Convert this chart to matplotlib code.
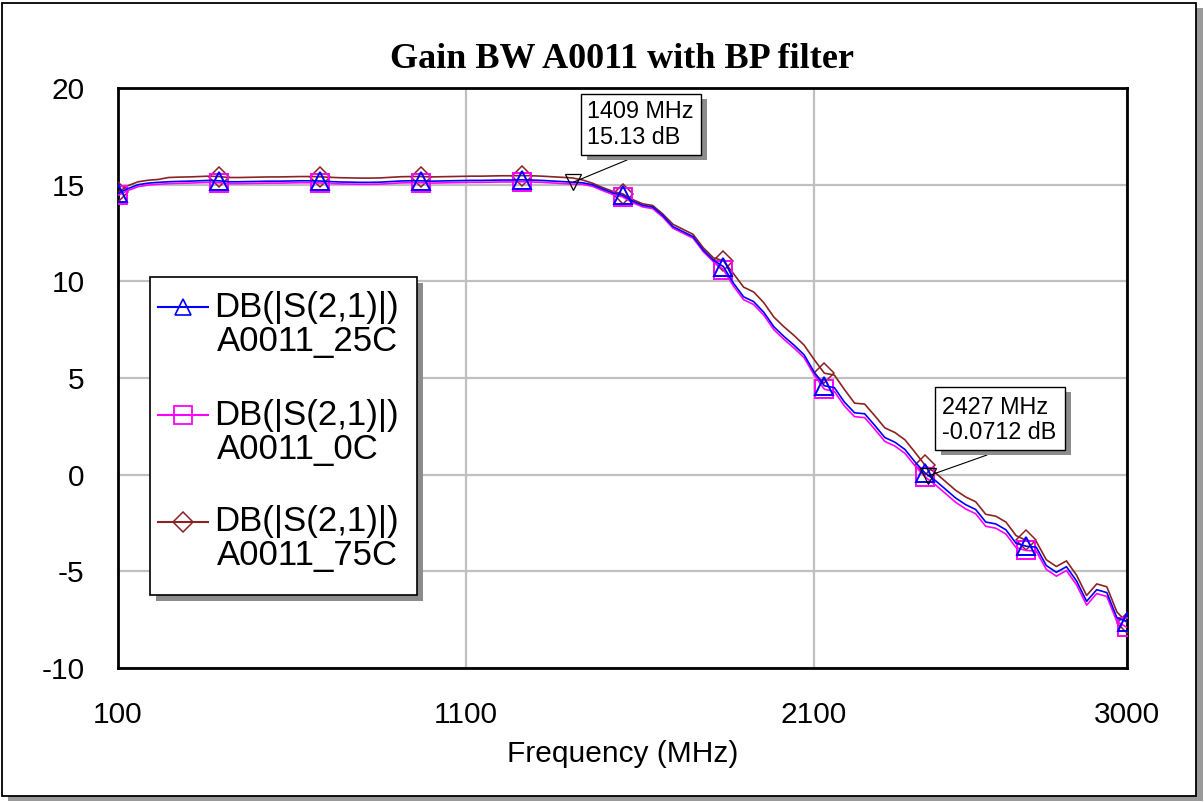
import matplotlib
matplotlib.use('Agg')
import matplotlib.pyplot as plt
from matplotlib.patches import Rectangle
from matplotlib.lines import Line2D
import numpy as np

# ---------------- data ----------------
freq_mhz = np.arange(100, 3001, 29)  # 101 sweep points, 100..3000 MHz

s21_25c = [14.55, 14.80, 15.00, 15.08, 15.12, 15.15, 15.17, 15.18, 15.20, 15.22,
           15.20, 15.15, 15.15, 15.16, 15.17, 15.18, 15.18, 15.19, 15.20, 15.20,
           15.19, 15.16, 15.14, 15.13, 15.12, 15.12, 15.13, 15.16, 15.19, 15.20,
           15.20, 15.18, 15.19, 15.20, 15.21, 15.22, 15.22, 15.23, 15.24, 15.24,
           15.25, 15.24, 15.22, 15.19, 15.16, 15.13, 15.10, 15.00, 14.78, 14.58,
           14.45, 14.15, 13.93, 13.84, 13.40, 12.83, 12.57, 12.31, 11.62, 11.10,
           10.76, 9.90, 9.20, 8.95, 8.40, 7.65, 7.15, 6.70, 6.20, 5.30,
           4.60, 4.50, 3.75, 3.20, 3.15, 2.55, 1.92, 1.68, 1.30, 0.65,
           0.08, -0.30, -0.75, -1.20, -1.55, -1.80, -2.45, -2.55, -2.85, -3.55,
           -3.70, -3.75, -4.70, -5.05, -4.76, -5.50, -6.55, -5.95, -6.10, -7.40,
           -7.60]

s21_0c = [14.45, 14.70, 14.90, 14.98, 15.02, 15.05, 15.07, 15.08, 15.10, 15.12,
          15.10, 15.05, 15.05, 15.06, 15.07, 15.08, 15.08, 15.09, 15.10, 15.10,
          15.09, 15.06, 15.04, 15.03, 15.02, 15.02, 15.03, 15.06, 15.09, 15.10,
          15.10, 15.08, 15.09, 15.10, 15.11, 15.12, 15.12, 15.13, 15.14, 15.14,
          15.15, 15.14, 15.12, 15.09, 15.06, 15.03, 15.02, 14.92, 14.70, 14.50,
          14.37, 14.07, 13.85, 13.76, 13.32, 12.75, 12.49, 12.23, 11.54, 11.02,
          10.61, 9.75, 9.05, 8.80, 8.25, 7.50, 7.00, 6.55, 6.05, 5.15,
          4.42, 4.30, 3.55, 3.00, 2.95, 2.35, 1.72, 1.48, 1.10, 0.45,
          -0.12, -0.52, -0.97, -1.42, -1.77, -2.02, -2.67, -2.77, -3.07, -3.77,
          -3.92, -3.95, -4.90, -5.25, -4.96, -5.70, -6.75, -6.15, -6.30, -7.60,
          -7.90]

s21_75c = [14.60, 14.95, 15.15, 15.23, 15.27, 15.37, 15.39, 15.40, 15.42, 15.44,
           15.42, 15.37, 15.37, 15.38, 15.39, 15.40, 15.40, 15.41, 15.42, 15.42,
           15.41, 15.38, 15.36, 15.35, 15.34, 15.34, 15.35, 15.38, 15.41, 15.42,
           15.42, 15.40, 15.41, 15.42, 15.43, 15.44, 15.44, 15.45, 15.46, 15.46,
           15.47, 15.46, 15.44, 15.41, 15.38, 15.35, 15.25, 15.08, 14.86, 14.66,
           14.53, 14.23, 14.01, 13.92, 13.48, 12.95, 12.69, 12.43, 11.74, 11.22,
           11.06, 10.40, 9.70, 9.45, 8.90, 8.15, 7.65, 7.20, 6.70, 5.95,
           5.25, 5.15, 4.40, 3.70, 3.65, 3.05, 2.42, 2.18, 1.80, 1.15,
           0.48, 0.10, -0.35, -0.80, -1.15, -1.40, -2.05, -2.15, -2.45, -3.15,
           -3.40, -3.45, -4.40, -4.75, -4.46, -5.20, -6.25, -5.65, -5.80, -7.10,
           -7.65]

series_names = ["DB(|S(2,1)|)\nA0011_25C", "DB(|S(2,1)|)\nA0011_0C", "DB(|S(2,1)|)\nA0011_75C"]

marker_freqs = [1409, 2427]
marker_dbs = [15.13, -0.0712]
marker_texts = ["1409 MHz\n15.13 dB", "2427 MHz\n-0.0712 dB"]

x_ticks = [100, 1100, 2100, 3000]
x_tick_labels = ["100", "1100", "2100", "3000"]
y_ticks = [-10, -5, 0, 5, 10, 15, 20]
y_tick_labels = ["-10", "-5", "0", "5", "10", "15", "20"]

title = "Gain BW A0011 with BP filter"
x_label = "Frequency (MHz)"

# ---------------- layout helpers ----------------
W, H = 1204, 802
def fx(x):
    return x / W
def fy(y):
    return 1 - y / H

SANS = "Liberation Sans"
SERIF = "Liberation Serif"

fig = plt.figure(figsize=(W / 100, H / 100), dpi=100)
fig.patch.set_facecolor("white")

# outer frame with shadow
fig.add_artist(Rectangle((fx(8), fy(801)), fx(1195), (801 - 8) / H, transform=fig.transFigure,
                         facecolor="#9a9a9a", edgecolor="none", zorder=0))
fig.add_artist(Rectangle((fx(2), fy(796)), fx(1194), (796 - 3) / H, transform=fig.transFigure,
                         facecolor="white", edgecolor="black", lw=1.3, zorder=0.5))

ax = fig.add_axes([fx(118), fy(668), (1127 - 118) / W, (668 - 88) / H])
ax.set_zorder(1)
ax.set_xlim(100, 3000)
ax.set_ylim(-10, 20)
ax.set_xticks(x_ticks)
ax.set_xticklabels(x_tick_labels, fontsize=21.5, family=SANS)
ax.set_yticks(y_ticks)
ax.set_yticklabels(y_tick_labels, fontsize=21.5, family=SANS)
ax.tick_params(length=0, pad=24)
ax.tick_params(axis="x", pad=24)
ax.grid(True, color="#c0c0c0", lw=1.6)
ax.set_axisbelow(True)
for sp in ax.spines.values():
    sp.set_linewidth(2.0)
    sp.set_color("black")

colors = {"25C": "#0000ff", "0C": "#ff00ff", "75C": "#8b2323"}
ax.plot(freq_mhz, s21_75c, color=colors["75C"], lw=1.2, marker="D", ms=10.5,
        mfc="none", mec=colors["75C"], mew=1.1, markevery=10, zorder=3)
ax.plot(freq_mhz, s21_0c, color=colors["0C"], lw=1.2, marker="s", ms=13.5,
        mfc="none", mec=colors["0C"], mew=1.4, markevery=10, zorder=4)
ax.plot(freq_mhz, s21_25c, color=colors["25C"], lw=1.2, marker="^", ms=13.5,
        mfc="none", mec=colors["25C"], mew=1.4, markevery=10, zorder=5)

# data markers (inverted triangles)
ax.plot(marker_freqs, marker_dbs, ls="none", marker="v", ms=12, mfc="none",
        mec="black", mew=0.9, zorder=6)

ax.set_xlabel(x_label, fontsize=21.5, family=SANS, labelpad=8)

fig.text(fx(622), fy(59), title, fontsize=26, family=SERIF, fontweight="bold",
         ha="center", va="center")

# annotation boxes
box_specs = [
    # left, top, right, bottom, text left, line1 y, anchor x, anchor y
    (581, 94, 701, 155, 587, 111, 627, 160),
    (935, 387, 1065, 450, 942, 407, 987, 455),
]
for (l, t, r, b, tl, ty, axx, ayy), fmhz, db, txt in zip(box_specs, marker_freqs, marker_dbs, marker_texts):
    fig.add_artist(Rectangle((fx(l + 6), fy(b + 5)), (r - l) / W, (b - t) / H, transform=fig.transFigure,
                             facecolor="#8c8c8c", edgecolor="none", zorder=7))
    fig.add_artist(Rectangle((fx(l), fy(b)), (r - l) / W, (b - t) / H, transform=fig.transFigure,
                             facecolor="white", edgecolor="black", lw=1.0, zorder=8))
    lines = txt.split("\n")
    fig.text(fx(tl), fy(ty), lines[0], fontsize=16.8, family=SANS, ha="left", va="center", zorder=9)
    fig.text(fx(tl), fy(ty + 26), lines[1], fontsize=16.8, family=SANS, ha="left", va="center", zorder=9)
    ax.annotate("", xy=(fmhz, db), xycoords="data", xytext=(fx(axx), fy(ayy)),
                textcoords="figure fraction",
                arrowprops=dict(arrowstyle="-", color="black", lw=0.8, shrinkA=0, shrinkB=0),
                zorder=6)

# legend (drawn as a framed box)
lg_l, lg_t, lg_r, lg_b = 150, 277, 417, 595
fig.add_artist(Rectangle((fx(lg_l + 6), fy(lg_b + 6)), (lg_r - lg_l) / W, (lg_b - lg_t) / H,
                         transform=fig.transFigure, facecolor="#8c8c8c", edgecolor="none", zorder=7))
fig.add_artist(Rectangle((fx(lg_l), fy(lg_b)), (lg_r - lg_l) / W, (lg_b - lg_t) / H,
                         transform=fig.transFigure, facecolor="white", edgecolor="black", lw=1.2, zorder=8))
legend_rows = [(307, "25C", "^", 12, 1.2), (415, "0C", "s", 12.5, 1.3), (522, "75C", "D", 10.5, 1.1)]
for (yy, key, mk, ms, mew), name in zip(legend_rows, series_names):
    fig.add_artist(Line2D([fx(158), fx(208)], [fy(yy), fy(yy)], transform=fig.transFigure,
                          color=colors[key], lw=1.5, zorder=9))
    fig.add_artist(Line2D([fx(183)], [fy(yy)], transform=fig.transFigure, ls="none",
                          marker=mk, ms=ms, mfc="none", mec=colors[key], mew=mew, zorder=9))
    l1, l2 = name.split("\n")
    fig.text(fx(214), fy(yy), l1, fontsize=25, family=SANS, ha="left", va="center", zorder=9)
    fig.text(fx(217), fy(yy + 34), l2, fontsize=25, family=SANS, ha="left", va="center", zorder=9)

fig.savefig("out.png", dpi=100, facecolor="white")
